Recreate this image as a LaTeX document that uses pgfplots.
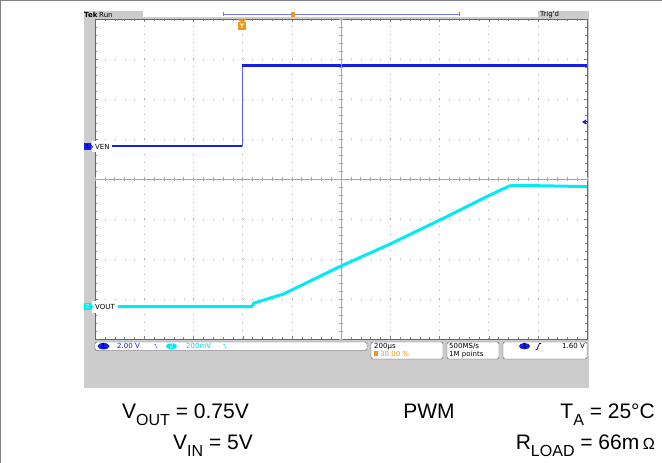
\documentclass[border=0pt]{standalone}
\usepackage{pgfplots}
\pgfplotsset{compat=1.18}
\usepackage{fontspec}
\setmainfont{Liberation Sans}
\newfontfamily\scopefont{DejaVu Sans}

\definecolor{panel}{RGB}{204,204,204}
\definecolor{ch1}{RGB}{20,30,230}
\definecolor{ch2}{RGB}{0,235,245}
\definecolor{trig}{RGB}{240,150,20}
\definecolor{frm}{RGB}{128,128,128}

\newcommand\sub[1]{\raisebox{-0.3em}{\fontsize{16}{16}\selectfont #1}}
\newcommand\sfs{\scopefont\fontsize{7}{7.5}\selectfont}
\newcommand\capfont{\fontsize{21}{25}\selectfont}

\begin{document}
\begin{tikzpicture}[x=1pt,y=1pt]
\useasboundingbox (0pt,0pt) rectangle (662pt,463pt);
% scope panel, image coordinates (y down)
\begin{scope}[y=-1pt,yshift=463pt]
  \draw[frm,line width=1.2pt] (0.6,463) -- (0.6,0.6) -- (662,0.6);
  \fill[panel] (84,11) rectangle (589,388);
  \fill[white] (95,19) rectangle (587,339);
\end{scope}

\begin{axis}[
  at={(95pt,124pt)}, anchor=south west,
  width=492pt, height=320pt, scale only axis,
  xmin=0, xmax=10, ymin=0, ymax=8,
  xtick={0,...,10}, ytick={0,...,8},
  xticklabels={}, yticklabels={},
  minor tick num=4,
  tick align=inside,
  major tick length=3pt, minor tick length=2pt,
  tick style={gray},
  axis line style={gray!80!black},
  grid=major,
  x grid style={gray!70, dash pattern=on 0.8pt off 7.2pt},
  y grid style={gray!70, dash pattern=on 0.8pt off 9.04pt},
]
% VEN (ch1)
\addplot[ch1, line width=2.4pt, line join=round] coordinates {(0,4.825) (2.99,4.825)};
\addplot[ch1!70, line width=1pt] coordinates {(2.99,4.825) (2.99,6.84)};
\addplot[ch1, line width=2.4pt, line join=round] coordinates {(2.99,6.84) (10,6.84)};
% VOUT (ch2)
\addplot[ch2, line width=3pt, line join=round] coordinates {
  (0,0.81) (3.185,0.81) (3.23,0.9) (3.29,0.92) (3.83,1.125)
  (5.01,1.83) (6.0,2.375) (7.01,2.975) (8.03,3.6)
  (8.43,3.83) (8.64,3.84) (10,3.81)
};
\end{axis}

\begin{scope}[y=-1pt,yshift=463pt]
  % centre cross
  \draw[gray!70] (341,19) -- (341,339);
  \draw[gray!70] (95,179) -- (587,179);
  \foreach \k in {0,...,40} \draw[gray!70] (339,{19+8*\k}) -- (343,{19+8*\k});
  \foreach \k in {0,...,50} \draw[gray!70] ({95+9.84*\k},177) -- ({95+9.84*\k},181);

  % header
  \fill[white] (143,11.5) rectangle (538,17.5);
  \draw[ch1!60, line width=0.8pt] (223,14) -- (459,14);
  \draw[ch1!60] (223,12) -- (223,16) (459,12) -- (459,16);
  \fill[trig] (291,12.5) rectangle (295,17.5);
  \node[anchor=west, inner sep=0, font=\sfs\bfseries] at (84,14.8) {Tek};
  \node[anchor=west, inner sep=0, font=\sfs] at (99,14.8) {Run};
  \node[anchor=west, inner sep=0, font=\sfs] at (540,14.8) {Trig'd};

  % trigger position marker
  \fill[trig] (237.5,19.5) -- (246.5,19.5) -- (242,22.5) -- cycle;
  \fill[trig] (238,22) rectangle (246,30);
  \node[inner sep=0, text=white, font=\scopefont\bfseries\fontsize{6}{6}\selectfont] at (242,26) {T};

  % channel labels
  \fill[white] (92,141) rectangle (112,152);
  \fill[ch1] (84,143) rectangle (91,150.5);
  \node[inner sep=0, font=\scopefont\fontsize{5.5}{5.5}\selectfont] at (87.5,146.8) {1};
  \fill[ch1!80] (91,144.5) -- (93.5,146.8) -- (91,149) -- cycle;
  \node[anchor=west, inner sep=0, font=\sfs] at (95,146.8) {VEN};
  \fill[white] (92,301) rectangle (118,313);
  \fill[ch2] (84,303) rectangle (91,310.5);
  \node[inner sep=0, text=white, font=\scopefont\fontsize{5.5}{5.5}\selectfont] at (87.5,306.8) {2};
  \fill[ch2] (91,304.5) -- (93.5,306.8) -- (91,309) -- cycle;
  \node[anchor=west, inner sep=0, font=\sfs] at (95,306.8) {VOUT};
  \fill[ch1] (582,122) -- (586,119.5) -- (586,124.5) -- cycle;
  \draw[ch1, line width=1pt] (585,122) -- (588,122);

  % status bar
  \draw[gray!60!black, fill=white, rounded corners=2pt] (95,342) rectangle (367,350.5);
  \fill[ch1] (103.5,346.2) ellipse (6pt and 3.2pt);
  \node[inner sep=0, font=\sfs] at (103.5,346.4) {1};
  \node[anchor=west, inner sep=0, text=ch1, font=\sfs] at (117,346.4) {2.00 V};
  \draw[ch1!70, line width=0.5pt] (154,344.5) -- (155.5,344.5) -- (156.5,348) -- (158,348);
  \fill[ch2] (171.5,346.2) ellipse (5.5pt and 3.2pt);
  \node[inner sep=0, text=white, font=\sfs] at (171.5,346.4) {2};
  \node[anchor=west, inner sep=0, text=ch2!90!black, font=\sfs] at (186,346.4) {200mV};
  \draw[ch2, line width=0.5pt] (223,344.5) -- (224.5,344.5) -- (225.5,348) -- (227,348);

  \draw[gray!60!black, fill=white, rounded corners=2pt] (371,342) rectangle (443,359);
  \node[anchor=west, inner sep=0, font=\sfs] at (374,346.4) {200µs};
  \fill[trig] (374,351.5) rectangle (378,356);
  \node[anchor=west, inner sep=0, text=trig, font=\sfs] at (380,354.2) {30.00 \%};

  \draw[gray!60!black, fill=white, rounded corners=2pt] (447,342) rectangle (499,359);
  \node[anchor=west, inner sep=0, font=\sfs] at (449,346.4) {500MS/s};
  \node[anchor=west, inner sep=0, font=\sfs] at (449,354.2) {1M points};

  \draw[gray!60!black, fill=white, rounded corners=2pt] (503,342) rectangle (587,359);
  \fill[ch1] (524.5,346.2) ellipse (5.5pt and 3.2pt);
  \node[inner sep=0, font=\sfs] at (524.5,346.4) {1};
  \draw[line width=0.7pt] (535.5,349.5) -- (537,349.5) -- (539.5,343.5) -- (541,343.5);
  \node[anchor=east, inner sep=0, font=\sfs] at (585,346.4) {1.60 V};

  % conditions
  \node[anchor=base east, inner sep=0, font=\capfont] at (249,419) {V\sub{OUT} = 0.75V};
  \node[anchor=base, inner sep=0, font=\capfont] at (429,419) {PWM};
  \node[anchor=base east, inner sep=0, font=\capfont] at (655,419) {T\sub{A} = 25°C};
  \node[anchor=base east, inner sep=0, font=\capfont] at (253,450) {V\sub{IN} = 5V};
  \node[anchor=base east, inner sep=0, font=\capfont] at (655,450) {R\sub{LOAD} = 66m\,{\fontsize{16}{16}\selectfont Ω}};
\end{scope}
\end{tikzpicture}
\end{document}
